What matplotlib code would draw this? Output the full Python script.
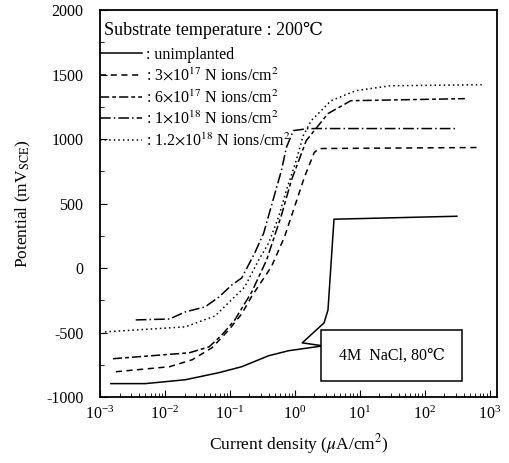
import numpy as np
import matplotlib
matplotlib.use("Agg")
import matplotlib.pyplot as plt

plt.rcParams['font.family'] = ['Liberation Serif', 'DejaVu Serif']
plt.rcParams['mathtext.fontset'] = 'stix'

# curves (current density uA/cm2, potential mV)
unimpl_i = [1.47e-3, 5.0e-3, 0.0206, 0.068, 0.152, 0.394, 0.80, 2.72, 1.30, 2.82, 3.24, 4.01, 313]
unimpl_e = [-896, -896, -866, -811, -765, -680, -641, -603, -580, -425, -325, 379, 402]

n3e17_i = [1.75e-3, 0.0117, 0.0263, 0.053, 0.0966, 0.152, 0.217, 0.437, 0.69, 0.95, 1.40, 1.99, 2.37, 631]
n3e17_e = [-804, -765, -711, -618, -479, -355, -219, 12, 239, 448, 703, 896, 927, 935]

n6e17_i = [1.58e-3, 0.0237, 0.0478, 0.0755, 0.119, 0.217, 0.367, 0.622, 0.885, 1.50, 3.24, 7.29, 415]
n6e17_e = [-703, -657, -611, -518, -402, -185, 62, 410, 680, 989, 1198, 1298, 1314]

n1e18_i = [3.55e-3, 0.0117, 0.0206, 0.0415, 0.068, 0.107, 0.152, 0.241, 0.331, 0.438, 0.622, 0.741, 0.948, 1.61, 313]
n1e18_e = [-402, -395, -340, -301, -224, -131, -77, 116, 270, 487, 757, 935, 1066, 1082, 1082]

n12e18_i = [1.19e-3, 0.0206, 0.059, 0.169, 0.277, 0.394, 0.560, 0.741, 1.05, 1.35, 1.79, 3.61, 8.69, 29.7, 755]
n12e18_e = [-495, -456, -371, -147, 62, 193, 394, 603, 835, 1028, 1144, 1298, 1376, 1414, 1422]

labels = [': unimplanted',
          ': 3$\\times$10$^{17}$ N ions/cm$^2$',
          ': 6$\\times$10$^{17}$ N ions/cm$^2$',
          ': 1$\\times$10$^{18}$ N ions/cm$^2$',
          ': 1.2$\\times$10$^{18}$ N ions/cm$^2$']

fig = plt.figure(figsize=(5.09, 4.63), dpi=100)
ax = fig.add_axes([0.1965, 0.1425, 0.78, 0.8355])

ax.plot(unimpl_i, unimpl_e, color='black', lw=1.1, ls='-', label=labels[0])
ax.plot(n3e17_i, n3e17_e, color='black', lw=1.1, ls=(0, (4, 3)), label=labels[1])
ax.plot(n6e17_i, n6e17_e, color='black', lw=1.1, ls=(0, (6, 2, 2.5, 2)), label=labels[2])
ax.plot(n1e18_i, n1e18_e, color='black', lw=1.1, ls=(0, (7, 2, 1, 2)), label=labels[3])
ax.plot(n12e18_i, n12e18_e, color='black', lw=1.1, ls=(0, (1, 2)), label=labels[4])

ax.set_xscale('log')
ax.set_xlim(1e-3, 1.3e3)
ax.set_ylim(-1000, 2000)
ax.set_yticks(np.arange(-1000, 2001, 500))
ax.set_yticks(np.arange(-1000, 2001, 250), minor=True)
ax.set_yticklabels(['-1000', '-500', '0', '500', '1000', '1500', '2000'])
ax.tick_params(which='both', direction='in', top=False, right=False, labelsize=11.5)
ax.tick_params(which='major', length=5)
ax.tick_params(which='minor', length=3)
ax.tick_params(axis='y', pad=12)
ax.tick_params(axis='x', pad=6)
for s in ax.spines.values():
    s.set_linewidth(1.3)

ax.set_xlabel('Current density ($\\mu$A/cm$^2$)', fontsize=12.5, labelpad=7)
ax.set_ylabel('Potential (mV$_{\\mathrm{SCE}}$)', fontsize=12.5, labelpad=9)

ax.text(0.01, 0.948, 'Substrate temperature : 200\u2103', transform=ax.transAxes,
        fontsize=13, va='center', ha='left')
ax.legend(loc='upper left', bbox_to_anchor=(0.0, 0.905), frameon=False, fontsize=11.5,
          handlelength=2.6, handletextpad=0.25, labelspacing=0.29, borderpad=0,
          borderaxespad=0)

ax.text(31, -680, '4M  NaCl, 80\u2103', fontsize=11.5, ha='center', va='center', zorder=5,
        bbox=dict(boxstyle='square,pad=1.1', fc='white', ec='black', lw=1.1))

fig.savefig('out.png', dpi=100)
